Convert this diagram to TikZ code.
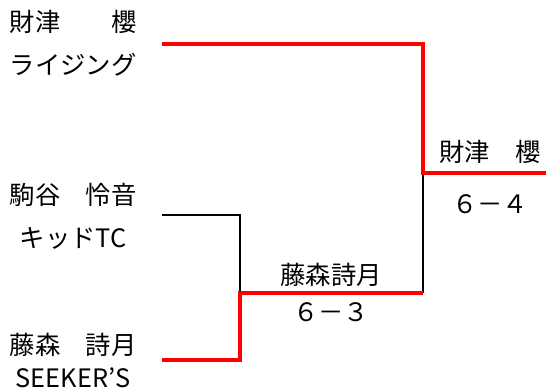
\documentclass[tikz,border=0pt]{standalone}
\usepackage{fontspec}
\setmainfont{Noto Sans CJK JP}
\begin{document}
\begin{tikzpicture}[x=0.75pt,y=-0.75pt,
  lbl/.style={inner sep=0pt,font=\fontsize{19}{22}\selectfont},
  win/.style={draw=red,line width=3.3pt},
  lose/.style={draw=black,line width=2pt}]
\useasboundingbox (0,0) rectangle (546,391);
% player labels
\node[lbl] (n1) at (73,22) {財津　　櫻};
\node[lbl] (c1) at (73,65) {ライジング};
\node[lbl] (n2) at (73,195) {駒谷　怜音};
\node[lbl] (c2) at (73,238) {キッドTC};
\node[lbl] (n3) at (73,345) {藤森　詩月};
\node[lbl] (c3) at (73,378) {SEEKER’S};
% results
\node[lbl] (w1) at (331,275) {藤森詩月};
\node[lbl] (s1) at (331,312) {６－３};
\node[lbl] (w2) at (490,152) {財津　櫻};
\node[lbl] (s2) at (490,204) {６－４};
% bracket points
\coordinate (a1) at (162,44);
\coordinate (a2) at (162,215);
\coordinate (a3) at (162,360);
\coordinate (m1) at (240,293);
\coordinate (f1) at (423,173);
\coordinate (e1) at (546,173);
% lines
\draw[lose] (a2) -| (m1);
\draw[lose] (m1 -| f1) -- (f1);
\draw[win] (a3) -| (m1) -- (m1 -| f1);
\draw[win] (a1) -| (f1) -- (e1);
\end{tikzpicture}
\end{document}
